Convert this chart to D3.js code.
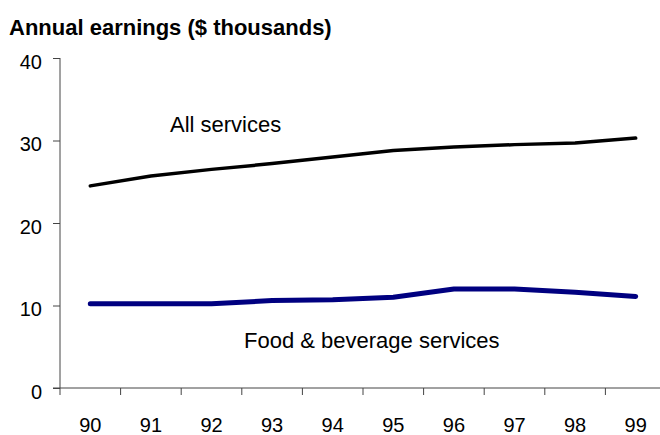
<!DOCTYPE html>
<html>
<head>
<meta charset="utf-8">
<script src="https://cdn.jsdelivr.net/npm/d3@7"></script>
<style>
  html, body { margin: 0; padding: 0; background: #fff; overflow: hidden; }
  svg { display: block; font-family: Arial, "Liberation Sans", sans-serif; }
</style>
</head>
<body>
<svg id="chart" width="660" height="435"></svg>
<script>
const years = ["90", "91", "92", "93", "94", "95", "96", "97", "98", "99"];
const allServices = [24.5, 25.7, 26.5, 27.2, 28.0, 28.8, 29.2, 29.5, 29.7, 30.3];
const foodBeverage = [10.2, 10.2, 10.2, 10.6, 10.7, 11.0, 12.0, 12.0, 11.6, 11.1];
const yTicks = [0, 10, 20, 30, 40];
const titleText = "Annual earnings ($ thousands)";
const seriesLabels = ["All services", "Food & beverage services"];

const svg = d3.select("#chart");
const x = d3.scaleBand().domain(years).range([60, 666]);
const y = d3.scaleLinear().domain([0, 40]).range([388, 58]);
const axisColor = "#444";
const fontFam = "Arial, 'Liberation Sans', sans-serif";

// title
svg.append("text")
  .attr("x", 9).attr("y", 34.5)
  .attr("font-weight", "bold")
  .attr("font-size", 22)
  .attr("fill", "#000")
  .text(titleText);

// y axis
const yAxis = svg.append("g").attr("transform", "translate(60,0)")
  .call(d3.axisLeft(y).tickValues(yTicks).tickSize(7).tickPadding(11).tickFormat(d3.format("d")));
yAxis.select(".domain").remove();
yAxis.selectAll(".tick line").attr("stroke", axisColor);
yAxis.selectAll(".tick text").attr("font-size", 20).attr("font-family", fontFam).attr("fill", "#000").attr("dy", "0.5em");
svg.append("line").attr("x1", 60).attr("x2", 60).attr("y1", y(40)).attr("y2", y(0) + 7).attr("stroke", axisColor);

// x axis
const xAxis = svg.append("g").attr("transform", `translate(0,${y(0)})`)
  .call(d3.axisBottom(x).tickSize(0).tickPadding(30));
xAxis.select(".domain").remove();
xAxis.selectAll(".tick text").attr("font-size", 20).attr("font-family", fontFam).attr("fill", "#000");
svg.append("line").attr("x1", 53).attr("x2", 666).attr("y1", y(0)).attr("y2", y(0)).attr("stroke", axisColor);
svg.append("g").selectAll("line").data(years.slice(1)).join("line")
  .attr("x1", d => x(d)).attr("x2", d => x(d))
  .attr("y1", y(0)).attr("y2", y(0) + 7)
  .attr("stroke", axisColor);

// lines
const line = d3.line().x((d, i) => x(years[i]) + x.bandwidth() / 2).y(d => y(d));
svg.append("path").datum(allServices).attr("d", line)
  .attr("fill", "none").attr("stroke", "#000").attr("stroke-width", 3.5)
  .attr("stroke-linecap", "round").attr("stroke-linejoin", "round");
svg.append("path").datum(foodBeverage).attr("d", line)
  .attr("fill", "none").attr("stroke", "#000080").attr("stroke-width", 5)
  .attr("stroke-linecap", "round").attr("stroke-linejoin", "round");

// series labels
svg.append("text").attr("x", 170).attr("y", 132).attr("font-size", 22).attr("fill", "#000").text(seriesLabels[0]);
svg.append("text").attr("x", 244).attr("y", 348).attr("font-size", 22).attr("fill", "#000").text(seriesLabels[1]);
</script>
</body>
</html>
